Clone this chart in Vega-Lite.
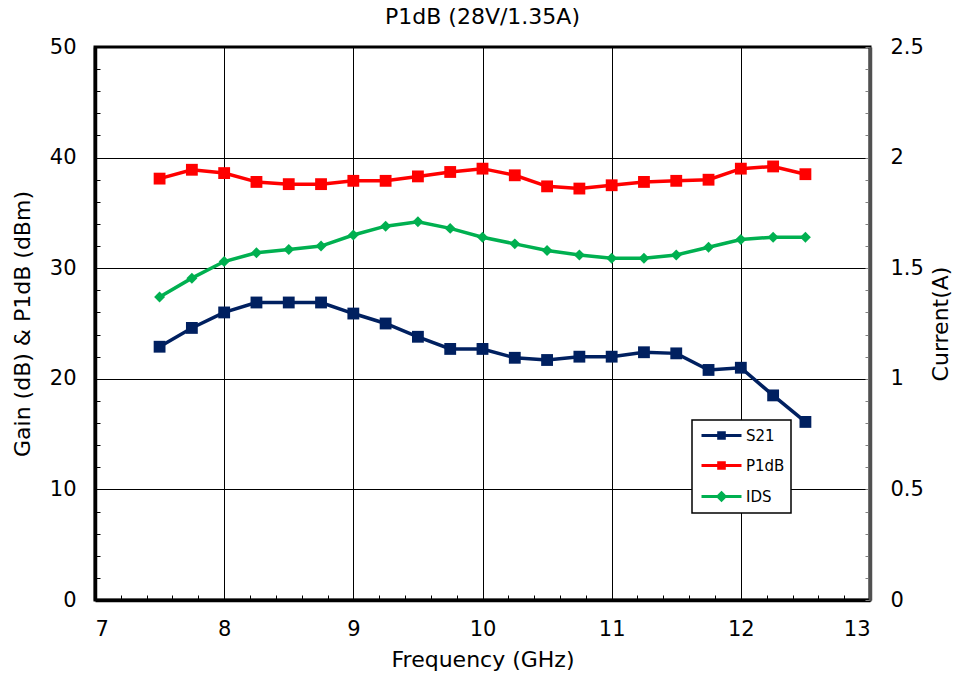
{
  "$schema": "https://vega.github.io/schema/vega-lite/v6.json",
  "width": 775,
  "height": 553,
  "autosize": {"type": "none"},
  "padding": {"left": 95, "top": 47, "right": 88, "bottom": 81},
  "background": "white",
  "title": {"text": "P1dB (28V/1.35A)", "font": "DejaVu Sans", "fontSize": 22, "fontWeight": "normal", "color": "black", "anchor": "middle", "offset": 7},
  "data": {"values": [
    {"freq": 7.5, "series": "S21", "value": 22.9},
    {"freq": 7.75, "series": "S21", "value": 24.6},
    {"freq": 8.0, "series": "S21", "value": 26.0},
    {"freq": 8.25, "series": "S21", "value": 26.9},
    {"freq": 8.5, "series": "S21", "value": 26.9},
    {"freq": 8.75, "series": "S21", "value": 26.9},
    {"freq": 9.0, "series": "S21", "value": 25.9},
    {"freq": 9.25, "series": "S21", "value": 25.0},
    {"freq": 9.5, "series": "S21", "value": 23.8},
    {"freq": 9.75, "series": "S21", "value": 22.7},
    {"freq": 10.0, "series": "S21", "value": 22.7},
    {"freq": 10.25, "series": "S21", "value": 21.9},
    {"freq": 10.5, "series": "S21", "value": 21.7},
    {"freq": 10.75, "series": "S21", "value": 22.0},
    {"freq": 11.0, "series": "S21", "value": 22.0},
    {"freq": 11.25, "series": "S21", "value": 22.4},
    {"freq": 11.5, "series": "S21", "value": 22.3},
    {"freq": 11.75, "series": "S21", "value": 20.8},
    {"freq": 12.0, "series": "S21", "value": 21.0},
    {"freq": 12.25, "series": "S21", "value": 18.5},
    {"freq": 12.5, "series": "S21", "value": 16.1},
    {"freq": 7.5, "series": "P1dB", "value": 38.1},
    {"freq": 7.75, "series": "P1dB", "value": 38.9},
    {"freq": 8.0, "series": "P1dB", "value": 38.6},
    {"freq": 8.25, "series": "P1dB", "value": 37.8},
    {"freq": 8.5, "series": "P1dB", "value": 37.6},
    {"freq": 8.75, "series": "P1dB", "value": 37.6},
    {"freq": 9.0, "series": "P1dB", "value": 37.9},
    {"freq": 9.25, "series": "P1dB", "value": 37.9},
    {"freq": 9.5, "series": "P1dB", "value": 38.3},
    {"freq": 9.75, "series": "P1dB", "value": 38.7},
    {"freq": 10.0, "series": "P1dB", "value": 39.0},
    {"freq": 10.25, "series": "P1dB", "value": 38.4},
    {"freq": 10.5, "series": "P1dB", "value": 37.4},
    {"freq": 10.75, "series": "P1dB", "value": 37.2},
    {"freq": 11.0, "series": "P1dB", "value": 37.5},
    {"freq": 11.25, "series": "P1dB", "value": 37.8},
    {"freq": 11.5, "series": "P1dB", "value": 37.9},
    {"freq": 11.75, "series": "P1dB", "value": 38.0},
    {"freq": 12.0, "series": "P1dB", "value": 39.0},
    {"freq": 12.25, "series": "P1dB", "value": 39.2},
    {"freq": 12.5, "series": "P1dB", "value": 38.5},
    {"freq": 7.5, "series": "IDS", "value": 1.37},
    {"freq": 7.75, "series": "IDS", "value": 1.455},
    {"freq": 8.0, "series": "IDS", "value": 1.53},
    {"freq": 8.25, "series": "IDS", "value": 1.57},
    {"freq": 8.5, "series": "IDS", "value": 1.585},
    {"freq": 8.75, "series": "IDS", "value": 1.6},
    {"freq": 9.0, "series": "IDS", "value": 1.65},
    {"freq": 9.25, "series": "IDS", "value": 1.69},
    {"freq": 9.5, "series": "IDS", "value": 1.71},
    {"freq": 9.75, "series": "IDS", "value": 1.68},
    {"freq": 10.0, "series": "IDS", "value": 1.64},
    {"freq": 10.25, "series": "IDS", "value": 1.61},
    {"freq": 10.5, "series": "IDS", "value": 1.58},
    {"freq": 10.75, "series": "IDS", "value": 1.56},
    {"freq": 11.0, "series": "IDS", "value": 1.545},
    {"freq": 11.25, "series": "IDS", "value": 1.545},
    {"freq": 11.5, "series": "IDS", "value": 1.56},
    {"freq": 11.75, "series": "IDS", "value": 1.595},
    {"freq": 12.0, "series": "IDS", "value": 1.63},
    {"freq": 12.25, "series": "IDS", "value": 1.64},
    {"freq": 12.5, "series": "IDS", "value": 1.64}
  ]},
  "encoding": {
    "x": {
      "field": "freq", "type": "quantitative",
      "scale": {"domain": [7, 13], "nice": false, "zero": false},
      "axis": {
        "title": "Frequency (GHz)",
        "values": [7,7.2,7.4,7.6,7.8,8,8.2,8.4,8.6,8.8,9,9.2,9.4,9.6,9.8,10,10.2,10.4,10.6,10.8,11,11.2,11.4,11.6,11.8,12,12.2,12.4,12.6,12.8,13],
        "format": "~g",
        "labelExpr": "datum.value % 1 === 0 ? datum.label : ''",
        "tickSize": -5,
        "labelPadding": 23,
        "titlePadding": 10,
        "domainWidth": 3.5,
        "grid": true,
        "gridColor": "black",
        "gridWidth": 1,
        "gridOpacity": {"condition": {"test": "datum.value % 1 === 0 && datum.value > 7 && datum.value < 13", "value": 1}, "value": 0}
      }
    },
    "color": {
      "field": "series", "type": "nominal",
      "scale": {"domain": ["S21", "P1dB", "IDS"], "range": ["#002060", "#FF0000", "#00B050"]},
      "legend": {
        "title": null,
        "orient": "none",
        "legendX": 597,
        "legendY": 373,
        "fillColor": "white",
        "strokeColor": "black",
        "padding": 6,
        "symbolSize": 256,
        "symbolOffset": 14,
        "labelOffset": 15,
        "symbolStrokeWidth": 3,
        "rowPadding": 11,
        "labelFont": "DejaVu Sans",
        "labelFontSize": 15,
        "labelColor": "black",
        "encode": {
          "symbols": {"update": {
            "shape": {"signal": "datum.value === 'IDS' ? 'M-2.5,0H2.5M0,-0.45L0.45,0L0,0.45L-0.45,0Z' : 'M-2.5,0H2.5M-0.35,-0.35H0.35V0.35H-0.35Z'"},
            "fill": {"scale": "color", "field": "value"},
            "stroke": {"scale": "color", "field": "value"},
            "strokeWidth": {"value": 3}
          }},
          "legend": {"update": {"strokeWidth": {"value": 1.5}}}
        }
      }
    }
  },
  "layer": [
    {
      "transform": [{"filter": "datum.series !== 'IDS'"}],
      "encoding": {
        "y": {
          "field": "value", "type": "quantitative",
          "scale": {"domain": [0, 50], "nice": false},
          "axis": {
            "orient": "left",
            "title": "Gain (dB) & P1dB (dBm)",
            "values": [0,2,4,6,8,10,12,14,16,18,20,22,24,26,28,30,32,34,36,38,40,42,44,46,48,50],
            "labelExpr": "datum.value % 10 === 0 ? datum.label : ''",
            "tickSize": -5,
            "labelPadding": 24,
            "titlePadding": 15,
            "domainWidth": 3.5,
            "grid": true,
            "gridColor": "black",
            "gridWidth": 1,
            "gridOpacity": {"condition": {"test": "datum.value % 10 === 0 && datum.value > 0 && datum.value < 50", "value": 1}, "value": 0}
          }
        }
      },
      "layer": [
        {"mark": {"type": "line", "strokeWidth": 3.5}},
        {"mark": {"type": "point", "shape": "square", "filled": true, "size": 140, "opacity": 1}}
      ]
    },
    {
      "transform": [{"filter": "datum.series === 'IDS'"}],
      "encoding": {
        "y": {
          "field": "value", "type": "quantitative",
          "scale": {"domain": [0, 2.5], "nice": false},
          "axis": {
            "orient": "right",
            "title": "Current(A)",
            "titleAngle": 270,
            "titleBaseline": "bottom",
            "values": [0,0.1,0.2,0.3,0.4,0.5,0.6,0.7,0.8,0.9,1,1.1,1.2,1.3,1.4,1.5,1.6,1.7,1.8,1.9,2,2.1,2.2,2.3,2.4,2.5],
            "format": "~g",
            "labelExpr": "abs(datum.value * 2 - round(datum.value * 2)) < 0.001 ? datum.label : ''",
            "tickSize": -5,
            "tickColor": "#808080",
            "labelPadding": 25,
            "titlePadding": 29,
            "domainWidth": 3.5,
            "domainColor": "#505050",
            "grid": false
          }
        }
      },
      "layer": [
        {"mark": {"type": "line", "strokeWidth": 3.5}},
        {"mark": {"type": "point", "shape": "diamond", "filled": true, "size": 120, "opacity": 1}}
      ]
    }
  ],
  "resolve": {"scale": {"y": "independent"}},
  "config": {
    "view": {"stroke": "black", "strokeWidth": 3},
    "axis": {
      "labelFont": "DejaVu Sans",
      "titleFont": "DejaVu Sans",
      "labelFontSize": 21,
      "titleFontSize": 22,
      "titleFontWeight": "normal",
      "labelColor": "black",
      "titleColor": "black",
      "domainColor": "black",
      "tickColor": "black",
      "tickWidth": 1
    }
  }
}
